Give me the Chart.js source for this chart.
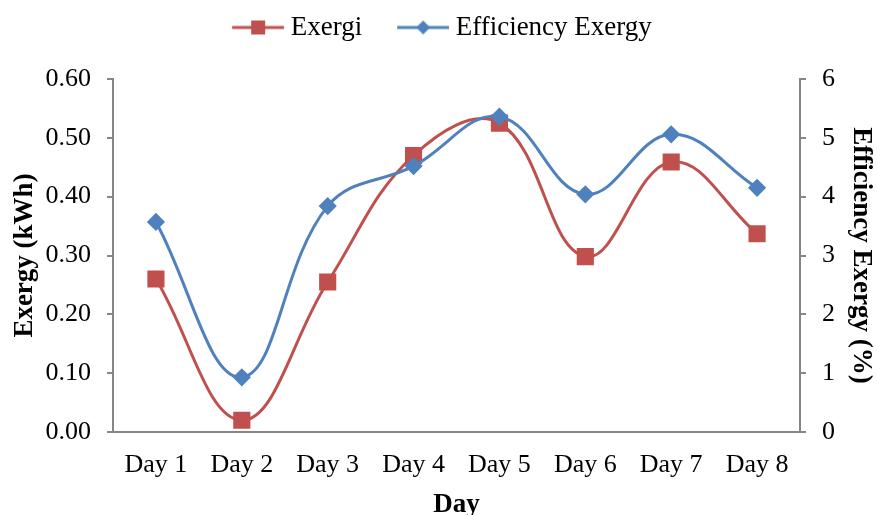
<!DOCTYPE html>
<html lang="en">
  <head>
    <meta charset="UTF-8" />
    <title>Exergy</title>
    <script src="https://cdn.jsdelivr.net/npm/chart.js"></script>
    <style>
      html, body { margin: 0; padding: 0; background: #fff; }
      #wrap { width: 877px; height: 515px; }
    </style>
  </head>
  <body>
    <div id="wrap"><canvas id="myChart"></canvas></div>

    <script>
      // 데이터
      const days = ["Day 1", "Day 2", "Day 3", "Day 4", "Day 5", "Day 6", "Day 7", "Day 8"];
      const exergi = [0.26, 0.02, 0.255, 0.47, 0.525, 0.298, 0.459, 0.337];
      const efficiency = [3.57, 0.93, 3.84, 4.52, 5.36, 4.04, 5.06, 4.15];
      const leftTicks = [0, 0.1, 0.2, 0.3, 0.4, 0.5, 0.6];
      const rightTicks = [0, 1, 2, 3, 4, 5, 6];

      const RED = "#C0504D";
      const BLUE = "#4F81BD";
      const AXIS = "#868686";
      const FONT = "'Liberation Serif', 'Times New Roman', serif";

      // 범례용 선+마커 이미지 (오른쪽으로 조금 밀어서 글자와 간격을 줄임)
      function legendIcon(color, shape) {
        const c = document.createElement("canvas");
        c.width = 66;
        c.height = 16;
        const g = c.getContext("2d");
        g.strokeStyle = color;
        g.lineWidth = 3;
        g.beginPath();
        g.moveTo(14, 8);
        g.lineTo(66, 8);
        g.stroke();
        g.fillStyle = color;
        if (shape === "rect") {
          g.fillRect(33, 1, 14, 14);
        } else {
          g.beginPath();
          g.moveTo(40, 1);
          g.lineTo(47, 8);
          g.lineTo(40, 15);
          g.lineTo(33, 8);
          g.closePath();
          g.fill();
        }
        return c;
      }

      // 범례 아래 여백 추가
      const legendGap = {
        id: "legendGap",
        beforeLayout(chart) {
          const lg = chart.legend;
          if (lg && !lg._gapPatched) {
            const fit = lg.fit;
            lg.fit = function () {
              fit.call(this);
              this.height += 28;
            };
            lg._gapPatched = true;
          }
        },
      };

      const ctx = document.getElementById("myChart").getContext("2d");
      new Chart(ctx, {
        type: "line",
        plugins: [legendGap],
        data: {
          labels: days,
          datasets: [
            {
              label: "Exergi",
              data: exergi,
              yAxisID: "y",
              borderColor: RED,
              backgroundColor: RED,
              borderWidth: 3,
              pointStyle: "rect",
              pointRadius: 10,
              pointHoverRadius: 10,
              tension: 0.4,
              order: 2,
              legendIcon: legendIcon(RED, "rect"),
            },
            {
              label: "Efficiency Exergy",
              data: efficiency,
              yAxisID: "y1",
              borderColor: BLUE,
              backgroundColor: BLUE,
              borderWidth: 3,
              pointStyle: "rectRot",
              pointRadius: 7,
              pointHoverRadius: 7,
              tension: 0.4,
              order: 1,
              legendIcon: legendIcon(BLUE, "diamond"),
            },
          ],
        },
        options: {
          responsive: true,
          maintainAspectRatio: false,
          animation: false,
          layout: { padding: { top: -14, left: 0, right: 0, bottom: 0 } },
          plugins: {
            tooltip: { enabled: false },
            legend: {
              display: true,
              position: "top",
              labels: {
                color: "#000",
                font: { family: FONT, size: 27 },
                usePointStyle: true,
                pointStyleWidth: 52,
                boxHeight: 16,
                padding: 28,
                generateLabels: function (chart) {
                  return chart.data.datasets.map(function (ds, i) {
                    return {
                      text: ds.label,
                      datasetIndex: i,
                      pointStyle: ds.legendIcon,
                      fillStyle: ds.borderColor,
                      strokeStyle: ds.borderColor,
                      lineWidth: 0,
                      fontColor: "#000",
                    };
                  });
                },
              },
            },
          },
          scales: {
            x: {
              offset: true,
              grid: { display: false },
              border: { display: true, color: AXIS, width: 2 },
              ticks: { color: "#000", padding: 10, font: { family: FONT, size: 26 } },
              title: {
                display: true,
                text: "Day",
                color: "#000",
                font: { family: FONT, size: 27, weight: "bold", lineHeight: 1 },
                padding: { top: 0, bottom: -4 },
              },
              afterFit: function (s) { s.height = 83; },
            },
            y: {
              position: "left",
              min: 0,
              max: 0.6,
              afterBuildTicks: function (s) { s.ticks = leftTicks.map((v) => ({ value: v })); },
              grid: { display: true, drawOnChartArea: false, drawTicks: true, tickLength: 6, color: AXIS, lineWidth: 2 },
              border: { display: true, color: AXIS, width: 2 },
              ticks: {
                color: "#000",
                padding: 16,
                font: { family: FONT, size: 26 },
                callback: (v) => Number(v).toFixed(2),
              },
              title: {
                display: true,
                text: "Exergy (kWh)",
                color: "#000",
                font: { family: FONT, size: 27, weight: "bold" },
                padding: { top: 9, bottom: 0 },
              },
              afterFit: function (s) { s.width = 113; },
            },
            y1: {
              position: "right",
              min: 0,
              max: 6,
              afterBuildTicks: function (s) { s.ticks = rightTicks.map((v) => ({ value: v })); },
              grid: { display: true, drawOnChartArea: false, drawTicks: true, tickLength: 6, color: AXIS, lineWidth: 2 },
              border: { display: true, color: AXIS, width: 2 },
              ticks: { color: "#000", padding: 16, font: { family: FONT, size: 26 } },
              title: {
                display: true,
                text: "Efficiency Exergy (%)",
                color: "#000",
                font: { family: FONT, size: 27, weight: "bold" },
                padding: { top: 0, bottom: 0 },
              },
              afterFit: function (s) { s.width = 77; },
            },
          },
        },
      });
    </script>
  </body>
</html>
